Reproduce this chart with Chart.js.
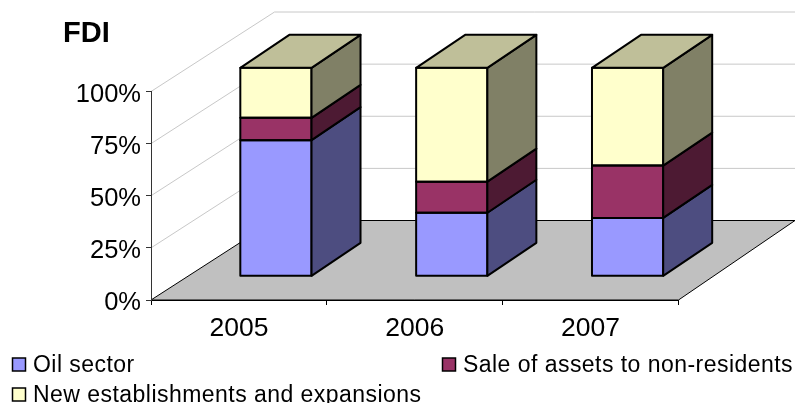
<!DOCTYPE html>
<html><head><meta charset="utf-8">
<style>html,body{margin:0;padding:0;background:#fff}#w{width:795px;height:403px;position:relative}</style>
<script src="https://cdn.jsdelivr.net/npm/chart.js@4"></script>
</head><body><div id="w"><canvas id="c" width="795" height="403"></canvas></div>
<script>
const categories = ['2005','2006','2007'];
const seriesNames = ['Oil sector','Sale of assets to non-residents','New establishments and expansions'];
const oilSector = [65.3,30.5,28];
const saleOfAssets = [10.7,14.9,25.1];
const newEstablishments = [24,54.6,46.9];
const yTickLabels = ['0%','25%','50%','75%','100%'];
const chartTitle = 'FDI';

const FONT = '"Liberation Sans", Arial, sans-serif';
const WALL = {dx:123.5, dy:-79.5, right:795};
const BAR_SHIFT = {x:37, y:-23.7};
const BAR_DEPTH = {x:49, y:-33};
const sides = ['#4D4D80','#4D1A33','#808066'];
const TOP_FACE = '#BFBF99';

const scene = {
  id:'scene',
  beforeDraw(chart){
    const {ctx,scales:{x,y}}=chart;
    const L=x.left,R=x.right,B=y.getPixelForValue(0);
    ctx.save();
    ctx.fillStyle='#fff';ctx.fillRect(0,0,chart.width,chart.height);
    ctx.strokeStyle='#C8C8C8';ctx.lineWidth=1;
    y.ticks.forEach(t=>{
      const p=y.getPixelForValue(t.value);
      if(t.value===0) return;
      ctx.beginPath();ctx.moveTo(L,p);ctx.lineTo(L+WALL.dx,p+WALL.dy);ctx.lineTo(WALL.right,p+WALL.dy);ctx.stroke();
    });
    ctx.beginPath();
    ctx.moveTo(L,B);ctx.lineTo(R,B);ctx.lineTo(WALL.right,B+WALL.dy);ctx.lineTo(L+WALL.dx,B+WALL.dy);ctx.closePath();
    ctx.fillStyle='#C0C0C0';ctx.fill();
    ctx.strokeStyle='#000';ctx.stroke();
    ctx.restore();
  },
  beforeDatasetsDraw(chart){
    chart.ctx.save();
    chart.ctx.translate(BAR_SHIFT.x,BAR_SHIFT.y);
  },
  afterDatasetsDraw(chart){
    const ctx=chart.ctx;
    ctx.lineWidth=2;ctx.strokeStyle='#000';ctx.lineJoin='round';
    const poly=(pts,fill)=>{
      ctx.beginPath();pts.forEach((p,i)=>i?ctx.lineTo(p[0],p[1]):ctx.moveTo(p[0],p[1]));ctx.closePath();
      if(fill){ctx.fillStyle=fill;ctx.fill();}
      ctx.stroke();
    };
    const n=chart.data.datasets.length;
    chart.data.datasets.forEach((d,i)=>{
      chart.getDatasetMeta(i).data.forEach(b=>{
        const r=b.getProps(['x','y','base','width'],true);
        const xr=r.x+r.width/2, xl=r.x-r.width/2;
        const top=r.y, base=r.base;
        poly([[xl,top],[xr,top],[xr,base],[xl,base]],null);
        poly([[xr,top],[xr+BAR_DEPTH.x,top+BAR_DEPTH.y],[xr+BAR_DEPTH.x,base+BAR_DEPTH.y],[xr,base]],sides[i]);
        if(i===n-1) poly([[xl,top],[xr,top],[xr+BAR_DEPTH.x,top+BAR_DEPTH.y],[xl+BAR_DEPTH.x,top+BAR_DEPTH.y]],TOP_FACE);
      });
    });
    ctx.restore();
  },
  afterDraw(chart){
    const ctx=chart.ctx;
    const pos=[[12.5,358],[442.5,358],[12.5,388]];
    ctx.save();
    ctx.font='23px '+FONT;ctx.textBaseline='alphabetic';ctx.textAlign='left';
    ctx.letterSpacing='0.46px';
    chart.data.datasets.forEach((d,i)=>{
      const [x,yy]=pos[i];
      ctx.fillStyle=d.backgroundColor;ctx.strokeStyle='#000';ctx.lineWidth=1.5;
      ctx.fillRect(x,yy,13,13);ctx.strokeRect(x,yy,13,13);
      ctx.fillStyle='#000';
      ctx.fillText(d.label,x+20.5,yy+14);
    });
    ctx.restore();
  }
};

const colors=['#9999FF','#993366','#FFFFCC'];
const values=[oilSector,saleOfAssets,newEstablishments];

new Chart(document.getElementById('c'),{
  type:'bar',
  data:{labels:categories,datasets:seriesNames.map((label,i)=>({
    label,data:values[i],backgroundColor:colors[i],borderWidth:0,clip:false,
    barPercentage:0.405,categoryPercentage:1
  }))},
  options:{
    responsive:false,animation:false,
    layout:{padding:{left:63,right:116.5,top:17,bottom:0}},
    plugins:{
      legend:{display:false},tooltip:{enabled:false},
      title:{display:true,text:chartTitle,align:'start',color:'#000',
        font:{family:FONT,size:29,weight:'bold',lineHeight:1.2},padding:{top:0,bottom:39.7}}
    },
    scales:{
      x:{stacked:true,offset:true,
        grid:{display:true,drawOnChartArea:false,offset:true,tickLength:5,color:'#000'},
        border:{color:'#000'},
        ticks:{color:'#000',font:{family:FONT,size:26.5},padding:8,maxRotation:0},
        afterFit(s){s.height=103;}
      },
      y:{stacked:true,min:0,max:100,
        grid:{display:true,drawOnChartArea:false,tickLength:5,color:'#333'},
        border:{color:'#333'},
        ticks:{stepSize:25,color:'#000',font:{family:FONT,size:25.5},padding:5,labelOffset:3,
          callback(v){return yTickLabels[v/25];}},
        afterFit(s){s.width=88;}
      }
    }
  },
  plugins:[scene]
});
</script></body></html>
